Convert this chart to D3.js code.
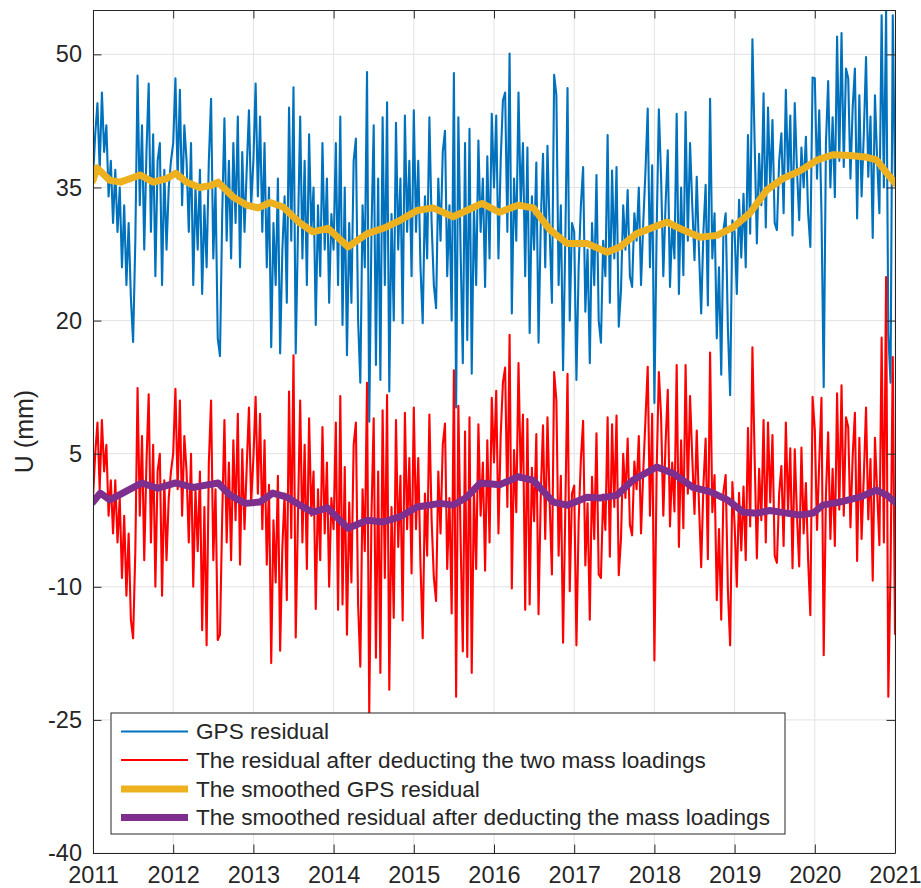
<!DOCTYPE html>
<html><head><meta charset="utf-8">
<script src="https://cdn.jsdelivr.net/npm/d3@7"></script>
<style>
body{margin:0;background:#fff}
svg{display:block}
text{font-family:"Liberation Sans",Arial,Helvetica,sans-serif;fill:#262626}
</style>
</head><body>
<svg id="chart" width="921" height="888"></svg>
<script>
// ---------- data ----------
const startYear = 2011;
const samplesPerYear = 36;
const yearTicks = [2011,2012,2013,2014,2015,2016,2017,2018,2019,2020,2021];
const valueTicks = [-40,-25,-10,5,20,35,50];
const seriesNames = [
  "GPS residual",
  "The residual after deducting the two mass loadings",
  "The smoothed GPS residual",
  "The smoothed residual after deducting the mass loadings"
];

const gps2011 = [36,41,44.5,37,45.7,39,42,34,38,31,37,30,35,26,33,24,31,22.6,17.6,29,47.6,33,42,28,39,46.7,30,41,25,38,40,24,37,28,35,38];
const gps2012 = [40,47.3,36,46,33,42,38,30,40,24,35,28,37,23,33,26,38,45,27,35,18,16,32,42.8,29,38,27,40,31,43,26,39,30,37,43.7,33];
const gps2013 = [38,46.7,34,43,30,40,26,35,17,31,24,36,16.3,28,34,22,44,29,46.3,16.3,30,43,27,38,24,41,30,35,19.5,33,25,40,28,36,22,32];
const gps2014 = [28,40,24,43,19.5,35,16.1,31,22,38,40.5,20,13,33,26,48,8.6,30,42,15,36,13.3,42.9,24,44.6,12,32,20,42.3,28,36,19.7,43.1,30,38,25];
const gps2015 = [43.7,30,38,26,19.7,34,27,42.9,31,24,21.4,36,29,39,41.4,25,33,20,47.9,10.2,42.9,28,15.2,40,17.8,41.6,14,33,24,40.3,30,36,23.8,38.5,27,43.3];
const gps2016 = [35,43.1,27,38,44.8,45.7,30,50.1,20.8,36,29,45.7,33,40,25,39.5,18.6,34,28,37.8,17.5,31,38.8,26,39.7,30,22,47.7,45.4,24,33,14.4,29,46.2,20,31];
const gps2017 = [30,13.3,26,33,37.3,21,28,15.2,31,24,36.4,20,17.5,29,25,40.9,22,36.9,27,37.3,19.3,23.4,33,28,34.7,25,23.8,32.1,29,35,24,31,36.9,43.9,26,37.5];
const gps2018 = [10.7,30,43.8,36.2,25,33,39.2,23.8,31,27,43.3,23,35,25.1,43.5,29,40,33,26.8,36.2,28,20.8,30,35.3,21.7,45,27,32.1,18,26,13.9,30.2,32.1,19,11.6,31.3];
const gps2019 = [30,23,33.6,27.1,34.3,26,40.9,29.8,51.7,40,28.7,38.8,33,45.6,30.5,44,35,42.6,31,30.2,38,41.1,32.1,46,36,43.1,29.6,44.5,37,31.3,39.5,35,40.7,32.1,28.3,47.4];
const gps2020 = [47.3,36,43.7,32.1,12.5,40,47,35,42.9,33.9,52,38,52.4,37.3,48.4,47.3,36,44,48.4,31.5,45.4,34,41,49.7,36.2,43,29.3,45.4,38,32.1,54.4,35,55,18.6,13,54.4,35.5];

const res2011 = [0,5,8.5,1,8.8,3,6,-2,2,-4,2,-5,0,-9,-2,-11,-4,-13.7,-15.8,-6,12.4,-2,7,-7,4,11.7,-5,6,-10,3,5,-11,2,-7,0,3];
const res2012 = [5,12.3,1,11,-2,7,3,-5,5,-10,1,-6,3,-14.9,-1,-16.6,4,11,-7,1,-16,-15.4,-2,8.8,-5,4,-7,6.5,-2.5,9.5,-7.5,5.5,-3.5,3.5,10.2,-0.5];
const res2013 = [4.5,11.4,0.5,9.5,-3.5,6.5,-7.5,1.5,-18.6,-2.5,-9.5,2.5,-17.2,-5.5,0.5,-11.5,12,-4.5,16.1,-15.7,-2,11,-5,6,-8,9,-2,3,-12.5,1,-7,8,-4,4,-10,0];
const res2014 = [-3.5,8.5,-12.6,11.5,-12,3.5,-15.4,-0.5,-9.5,6,8.5,-12,-19,1,-6,13,-24.2,-2,9,-18,3,-19.7,9.9,-9,11.6,-21.6,-1,-13.5,8.8,-5.5,2.5,-13.8,9.6,-3.5,4.5,-8.5];
const res2015 = [10.2,-3.5,4.5,-7.5,-15.8,0.5,-6.5,9.4,-2.5,-9,-11.6,3,-4,6,8.4,-8,0,-13,14.4,-22.4,10.4,-4.5,-17.3,7.5,-17.9,9.1,-19.7,1,-8,8.3,-2,4,-8.2,6.5,-5,11.3];
const res2016 = [4,12.1,-4,7,13,14.7,-1,18.4,-10.2,5.4,-1.6,15.2,2.4,9.4,-12.6,8.9,-12,3.4,-2.6,7.2,-13.1,0.4,8.2,-4.6,9.1,-0.6,-8.6,14.2,11,-6.5,2.5,-16.3,-1.5,14,-10.5,0.5];
const res2017 = [1.4,-16.6,-2.6,4.4,8.7,-7.6,-0.6,-13.7,2.4,-4.6,7.3,-8.6,-9,0.4,-3.6,9.1,-6.6,8.3,-1,9.3,-8.7,-4.6,5,0,6.7,-3,-4.2,4.1,1,7,-4,3,8.9,14.8,-2,9.5];
const res2018 = [-18.3,3,14.2,9.2,-2,6,12.2,-3.2,4,-1.5,15,-5.5,6.5,-3.4,15,0.5,11.5,4.5,-1.8,7.6,-0.6,-7.8,1.4,6.7,-6.9,16.4,-1.6,2.6,-11.5,-3.5,-13.7,0.7,2.6,-10.5,-16.6,1.8];
const res2019 = [-3,-10,0.6,-5.9,1.3,-7,7.9,-3.2,17,4.5,-6.8,3.3,-2.5,8.8,-5,8.5,-0.5,7.1,-6.5,-7.3,0.5,3.6,-5.4,8.5,-1.5,5.6,-7.9,5.5,-2,-7.7,5.7,-4,1.7,-6.9,-13.2,11.4];
const res2020 = [7.7,-3.6,4.1,11.3,-17.7,0.4,7.4,-4.6,3.3,-5.4,11.8,-1.3,12.7,-2,9.1,8,-3.3,4.7,9.6,-7.1,6.8,-4.6,2.4,10.2,-2.4,4.4,-9.3,6.8,0.6,-5.3,18.1,-5,24.9,-22.4,-8,15.9,-15.4];

const smoothGpsYears = [2011.00,2011.05,2011.21,2011.34,2011.59,2011.75,2011.92,2012.03,2012.17,2012.33,2012.46,2012.56,2012.75,2012.92,2013.06,2013.21,2013.37,2013.58,2013.74,2013.93,2014.18,2014.42,2014.62,2014.83,2015.04,2015.24,2015.49,2015.66,2015.85,2016.07,2016.30,2016.49,2016.70,2016.91,2017.16,2017.41,2017.57,2017.78,2018.16,2018.36,2018.57,2018.78,2018.98,2019.19,2019.40,2019.60,2019.82,2020.03,2020.23,2020.44,2020.65,2020.77,2020.90,2021.00];
const smoothGpsValues = [35.8,37.2,35.8,35.6,36.4,35.6,36,36.6,35.6,35,35.2,35.6,33.9,33,32.7,33.3,32.8,31,30,30.4,28.3,29.8,30.4,31.3,32.4,32.7,31.7,32.4,33.2,32.2,33,32.7,30.2,28.7,28.7,27.7,28.3,29.8,31.1,30.2,29.4,29.6,30.5,32.1,34.7,36,36.9,38.1,38.7,38.6,38.4,38.1,36.6,35.5];

const smoothResYears = [2011.00,2011.09,2011.21,2011.37,2011.61,2011.80,2012.03,2012.25,2012.56,2012.71,2012.90,2013.08,2013.24,2013.42,2013.58,2013.74,2013.92,2014.18,2014.42,2014.62,2014.83,2015.04,2015.33,2015.49,2015.66,2015.83,2016.07,2016.30,2016.49,2016.74,2016.91,2017.16,2017.32,2017.53,2017.73,2018.03,2018.23,2018.48,2018.70,2018.91,2019.11,2019.28,2019.44,2019.65,2019.81,2019.98,2020.10,2020.31,2020.56,2020.77,2020.90,2021.00];
const smoothResValues = [-0.45,0.56,-0.2,0.56,1.7,1.1,1.7,1.2,1.7,0.3,-0.6,-0.45,0.56,0.1,-0.8,-1.6,-1.1,-3.4,-2.5,-2.7,-2.1,-1,-0.6,-0.8,0.1,1.7,1.5,2.4,2,-0.45,-0.8,0.1,0,0.3,2,3.5,2.8,1.2,0.7,-0.2,-1.6,-1.7,-1.4,-1.7,-1.9,-1.7,-0.8,-0.45,0.1,0.9,0.3,-0.45];

const seriesColors = ["#0072BD","#FF0000","#EDB120","#7E2F8E"];

// ---------- build ----------
const gpsResidual = [].concat(gps2011,gps2012,gps2013,gps2014,gps2015,gps2016,gps2017,gps2018,gps2019,gps2020)
  .map((v,i)=>({t:startYear+i/samplesPerYear, v}));
const residualAfter = [].concat(res2011,res2012,res2013,res2014,res2015,res2016,res2017,res2018,res2019,res2020)
  .map((v,i)=>({t:startYear+i/samplesPerYear, v}));
const smoothGps = smoothGpsYears.map((t,i)=>({t, v:smoothGpsValues[i]}));
const smoothRes = smoothResYears.map((t,i)=>({t, v:smoothResValues[i]}));

const W = 921, H = 888;
const plot = {left:93, right:895, top:10, bottom:853};
const svg = d3.select("#chart");
svg.append("rect").attr("width",W).attr("height",H).attr("fill","#fff");

const x = d3.scaleLinear().domain([2011,2021]).range([plot.left, plot.right]);
const y = d3.scaleLinear().domain([-40,55]).range([plot.bottom, plot.top]);

// grid
const grid = svg.append("g").attr("stroke","#e3e3e3").attr("stroke-width",1);
grid.selectAll("line.v").data(yearTicks).join("line")
  .attr("x1",d=>x(d)).attr("x2",d=>x(d)).attr("y1",plot.top).attr("y2",plot.bottom);
grid.selectAll("line.h").data(valueTicks).join("line")
  .attr("x1",plot.left).attr("x2",plot.right).attr("y1",d=>y(d)).attr("y2",d=>y(d));

// clip
svg.append("clipPath").attr("id","clip").append("rect")
  .attr("x",plot.left).attr("y",plot.top).attr("width",plot.right-plot.left).attr("height",plot.bottom-plot.top);

const line = d3.line().x(d=>x(d.t)).y(d=>y(d.v));
const series = svg.append("g").attr("clip-path","url(#clip)").attr("fill","none").attr("stroke-linejoin","round");
series.append("path").datum(gpsResidual).attr("d",line).attr("stroke",seriesColors[0]).attr("stroke-width",2.1);
series.append("path").datum(residualAfter).attr("d",line).attr("stroke",seriesColors[1]).attr("stroke-width",2.1);
series.append("path").datum(smoothGps).attr("d",line).attr("stroke",seriesColors[2]).attr("stroke-width",7).attr("stroke-linecap","round");
series.append("path").datum(smoothRes).attr("d",line).attr("stroke",seriesColors[3]).attr("stroke-width",7).attr("stroke-linecap","round");

// axes
const tickLen = 8.5;
const fmt = d => String(d);
function styleAxis(g){
  g.selectAll(".domain").attr("stroke","#262626").attr("stroke-width",1);
  g.selectAll(".tick line").attr("stroke","#262626").attr("stroke-width",1);
  g.selectAll(".tick text").attr("fill","#262626").style("font-size","23.5px").style("font-family","'Liberation Sans',Arial,sans-serif");
}
svg.append("g").attr("transform",`translate(0,${plot.bottom})`)
  .call(d3.axisBottom(x).tickValues(yearTicks).tickFormat(fmt).tickSize(-tickLen).tickSizeOuter(0).tickPadding(13))
  .call(styleAxis);
svg.append("g").attr("transform",`translate(0,${plot.top})`)
  .call(d3.axisTop(x).tickValues(yearTicks).tickFormat("").tickSize(-tickLen).tickSizeOuter(0))
  .call(styleAxis);
svg.append("g").attr("transform",`translate(${plot.left},0)`)
  .call(d3.axisLeft(y).tickValues(valueTicks).tickFormat(fmt).tickSize(-tickLen).tickSizeOuter(0).tickPadding(11))
  .call(styleAxis);
svg.append("g").attr("transform",`translate(${plot.right},0)`)
  .call(d3.axisRight(y).tickValues(valueTicks).tickFormat("").tickSize(-tickLen).tickSizeOuter(0))
  .call(styleAxis);

// y label
svg.append("text").attr("transform",`translate(24,${(plot.top+plot.bottom)/2}) rotate(-90)`)
  .attr("text-anchor","middle").attr("dominant-baseline","central")
  .style("font-size","25px").text("U (mm)");

// legend
const lg = svg.append("g");
lg.append("rect").attr("x",111).attr("y",713).attr("width",674).attr("height",121)
  .attr("fill","#fff").attr("stroke","#262626").attr("stroke-width",1);
const rowY = [731.5,760,789,817.5];
const widths = [2,2,7,7];
seriesNames.forEach((name,i)=>{
  lg.append("line").attr("x1",121).attr("x2",188).attr("y1",rowY[i]).attr("y2",rowY[i])
    .attr("stroke",seriesColors[i]).attr("stroke-width",widths[i]);
  lg.append("text").attr("x",196).attr("y",rowY[i]).attr("dominant-baseline","central")
    .style("font-size","22.6px").text(name);
});
</script>
</body></html>
